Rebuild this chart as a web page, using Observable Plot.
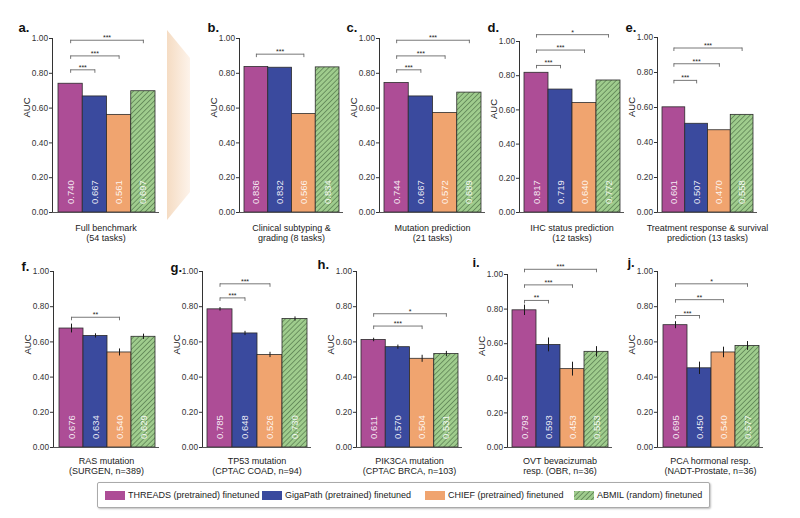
<!DOCTYPE html>
<html><head><meta charset="utf-8">
<script src="https://cdn.jsdelivr.net/npm/d3@7"></script>
<script src="https://cdn.jsdelivr.net/npm/@observablehq/plot@0.6"></script>
<style>
html,body{margin:0;padding:0;background:#fff;}
body{font-family:"Liberation Sans",Arial,sans-serif;}
#root{position:relative;width:800px;height:518px;overflow:hidden;}
#wedge{position:absolute;left:167px;top:30px;width:23px;height:190px;
  clip-path:polygon(0 0,100% 28px,100% 162px,0 100%);
  background:linear-gradient(to right,#f5dcc3,#fdf3ea);}
#legend{position:absolute;left:97px;top:482px;width:611px;height:24px;border:1px solid #aaa;border-radius:2px;
  box-shadow:1px 1px 2px rgba(0,0,0,0.25);background:#fff;}
.item{position:absolute;top:0;height:24px;display:flex;align-items:center;font-size:9px;color:#222;white-space:nowrap;}
.sw{width:20px;height:9px;margin-right:3px;display:inline-block;}
</style></head><body>
<svg width="0" height="0" style="position:absolute">
  <defs>
    <pattern id="hatch" patternUnits="userSpaceOnUse" width="3.6" height="3.6" patternTransform="rotate(45)">
      <rect width="3.6" height="3.6" fill="#9fcc8d"></rect>
      <line x1="0" y1="0" x2="0" y2="3.6" stroke="#2e4d2c" stroke-width="0.9"></line>
    </pattern>
  </defs>
</svg>
<div id="root"><div id="wedge"></div></div>
<script>
// ---------- data ----------
const models = ["THREADS (pretrained) finetuned", "GigaPath (pretrained) finetuned", "CHIEF (pretrained) finetuned", "ABMIL (random) finetuned"];
const modelColors = ["#ad4d96", "#3a4a9e", "#f0a46f", "url(#hatch)"];
const panelLetters = ["a", "b", "c", "d", "e", "f", "g", "h", "i", "j"];
const panelTitles = [
  "Full benchmark\n(54 tasks)",
  "Clinical subtyping &\ngrading (8 tasks)",
  "Mutation prediction\n(21 tasks)",
  "IHC status prediction\n(12 tasks)",
  "Treatment response & survival\nprediction (13 tasks)",
  "RAS mutation\n(SURGEN, n=389)",
  "TP53 mutation\n(CPTAC COAD, n=94)",
  "PIK3CA mutation\n(CPTAC BRCA, n=103)",
  "OVT bevacizumab\nresp. (OBR, n=36)",
  "PCA hormonal resp.\n(NADT-Prostate, n=36)"
];
const yTicks = [0, 0.2, 0.4, 0.6, 0.8, 1.0];

const aucA = [0.740, 0.667, 0.561, 0.697];
const aucB = [0.836, 0.832, 0.566, 0.834];
const aucC = [0.744, 0.667, 0.572, 0.689];
const aucD = [0.817, 0.719, 0.640, 0.772];
const aucE = [0.601, 0.507, 0.470, 0.558];
const aucF = [0.676, 0.634, 0.540, 0.629];
const aucG = [0.785, 0.648, 0.526, 0.730];
const aucH = [0.611, 0.570, 0.504, 0.531];
const aucI = [0.793, 0.593, 0.453, 0.553];
const aucJ = [0.695, 0.450, 0.540, 0.577];

const errF = [0.025, 0.012, 0.020, 0.015];
const errG = [0.010, 0.012, 0.015, 0.012];
const errH = [0.010, 0.012, 0.020, 0.015];
const errI = [0.030, 0.040, 0.040, 0.030];
const errJ = [0.020, 0.035, 0.030, 0.025];

// significance brackets: [from bar, to bar, AUC level, label]
const sigA = [[0, 3, 0.99, "***"], [0, 2, 0.90, "***"], [0, 1, 0.82, "***"]];
const sigB = [[0, 2, 0.91, "***"]];
const sigC = [[0, 3, 0.99, "***"], [0, 2, 0.90, "***"], [0, 1, 0.82, "***"]];
const sigD = [[0, 3, 1.04, "*"], [0, 2, 0.95, "***"], [0, 1, 0.86, "***"]];
const sigE = [[0, 3, 0.94, "***"], [0, 2, 0.85, "***"], [0, 1, 0.755, "***"]];
const sigF = [[0, 2, 0.74, "**"]];
const sigG = [[0, 2, 0.93, "***"], [0, 1, 0.85, "***"]];
const sigH = [[0, 3, 0.76, "*"], [0, 2, 0.69, "***"]];
const sigI = [[0, 3, 1.03, "***"], [0, 2, 0.94, "***"], [0, 1, 0.85, "**"]];
const sigJ = [[0, 3, 0.93, "*"], [0, 2, 0.84, "**"], [0, 1, 0.75, "***"]];

const panels = [
  {auc: aucA, err: null, sig: sigA},
  {auc: aucB, err: null, sig: sigB},
  {auc: aucC, err: null, sig: sigC},
  {auc: aucD, err: null, sig: sigD},
  {auc: aucE, err: null, sig: sigE},
  {auc: aucF, err: errF, sig: sigF},
  {auc: aucG, err: errG, sig: sigG},
  {auc: aucH, err: errH, sig: sigH},
  {auc: aucI, err: errI, sig: sigI},
  {auc: aucJ, err: errJ, sig: sigJ}
];

// ---------- layout (pixels) ----------
const layout = [
  {top: 0, h: 250, y0: 212, yTop: 38, ax: 52, bl: 58, br: 155, lx: 18, ly: 31, aucDy: -8, tdy: 11},
  {top: 0, h: 250, y0: 212, yTop: 38, ax: 239, bl: 244, br: 339, lx: 207, ly: 31, aucDy: -8, tdy: 11},
  {top: 0, h: 250, y0: 212, yTop: 38, ax: 379, bl: 384, br: 481, lx: 346, ly: 31, aucDy: -8, tdy: 11},
  {top: 0, h: 250, y0: 212, yTop: 41, ax: 519, bl: 524, br: 620, lx: 487, ly: 31, aucDy: -8, tdy: 11},
  {top: 0, h: 250, y0: 212, yTop: 37, ax: 657, bl: 662, br: 753, lx: 625, ly: 31, aucDy: -8, tdy: 11},
  {top: 250, h: 230, y0: 447, yTop: 271, ax: 53, bl: 59, br: 155, lx: 21, ly: 270, aucDy: -5, tdy: 9},
  {top: 250, h: 230, y0: 447, yTop: 271, ax: 202, bl: 207, br: 307, lx: 170, ly: 271, aucDy: -5, tdy: 9},
  {top: 250, h: 230, y0: 447, yTop: 271, ax: 356, bl: 361, br: 458, lx: 317, ly: 268, aucDy: -5, tdy: 9},
  {top: 250, h: 230, y0: 447, yTop: 274, ax: 507, bl: 512, br: 608, lx: 472, ly: 266, aucDy: -5, tdy: 9},
  {top: 250, h: 230, y0: 447, yTop: 271, ax: 657, bl: 663, br: 759, lx: 627, ly: 266, aucDy: -5, tdy: 9}
];
const legendX = [104, 261, 424, 573];

const root = document.getElementById("root");

panels.forEach((p, k) => {
  const g = layout[k];
  const unit = (g.br - g.bl) / 4;
  const frameRight = g.br + 4;
  const ml = 52, mr = 26;
  const width = ml + (frameRight - g.ax) + mr;
  const rows = p.auc.map((v, i) => ({i, model: models[i], v, e: p.err ? p.err[i] : 0}));
  const ends = p.sig.flatMap(s => [{x: s[0], y: s[2]}, {x: s[1], y: s[2]}]);
  const chart = Plot.plot({
    width, height: g.h,
    marginLeft: ml, marginRight: mr,
    marginTop: g.yTop - g.top, marginBottom: g.top + g.h - g.y0,
    style: {fontFamily: "Liberation Sans, Arial, sans-serif", fontSize: "8.3px", color: "#333", background: "transparent", overflow: "visible"},
    x: {type: "linear", domain: [-0.5 - (g.bl - g.ax) / unit, 3.5 + (frameRight - g.br) / unit], axis: null},
    y: {domain: [0, 1], ticks: yTicks, tickFormat: d3.format(".2f"), label: null, line: true, tickSize: 3, tickPadding: 1.5},
    color: {domain: models, range: modelColors},
    marks: [
      Plot.rectY(rows, {x1: d => d.i - 0.5, x2: d => d.i + 0.5, y1: 0, y2: "v", fill: "model", stroke: "#2b2b2b", strokeWidth: 0.8}),
      Plot.ruleY([0], {stroke: "#555"}),
      p.err ? Plot.ruleX(rows, {x: "i", y1: d => d.v - d.e, y2: d => d.v + d.e, stroke: "#1a1a1a", strokeWidth: 1}) : null,
      Plot.text(rows, {x: "i", y: 0, text: d => d.v.toFixed(3), rotate: -90, textAnchor: "start", lineAnchor: "middle", dy: -8.5, fill: "white", fillOpacity: 0.9, fontSize: 9.5}),
      Plot.link(p.sig, {x1: d => d[0], x2: d => d[1], y1: d => d[2], y2: d => d[2], stroke: "#555", strokeWidth: 0.8}),
      Plot.ruleX(ends, {x: "x", y1: "y", y2: d => d.y - 0.02, stroke: "#555", strokeWidth: 0.8}),
      Plot.text(p.sig, {x: d => (d[0] + d[1]) / 2, y: d => d[2], text: d => d[3], lineAnchor: "bottom", dy: 0, fontSize: 7, fill: "#222"}),
      Plot.text([panelTitles[k]], {frameAnchor: "bottom", lineAnchor: "top", dy: g.tdy, fontSize: 9, lineHeight: 1.12, fill: "#222"}),
      Plot.text(["AUC"], {frameAnchor: "left", rotate: -90, dx: -26, dy: g.aucDy, fontSize: 9.5, fill: "#222"}),
      Plot.text([panelLetters[k] + "."], {frameAnchor: "top-left", textAnchor: "start", lineAnchor: "bottom", dx: g.lx - g.ax, dy: g.ly - g.yTop, fontSize: 13, fontWeight: "bold", fill: "#111"})
    ]
  });
  chart.style.position = "absolute";
  chart.style.left = (g.ax - ml) + "px";
  chart.style.top = g.top + "px";
  root.appendChild(chart);
});

// ---------- legend ----------
const legend = document.createElement("div");
legend.id = "legend";
models.forEach((m, i) => {
  const item = document.createElement("div");
  item.className = "item";
  item.style.left = (legendX[i] - 97) + "px";
  const sw = document.createElementNS("http://www.w3.org/2000/svg", "svg");
  sw.setAttribute("width", 20); sw.setAttribute("height", 9);
  sw.setAttribute("class", "sw");
  const r = document.createElementNS("http://www.w3.org/2000/svg", "rect");
  r.setAttribute("width", 20); r.setAttribute("height", 9);
  r.setAttribute("fill", modelColors[i]);
  sw.appendChild(r);
  item.appendChild(sw);
  const t = document.createElement("span");
  t.textContent = m;
  item.appendChild(t);
  legend.appendChild(item);
});
root.appendChild(legend);
</script>
</body></html>
